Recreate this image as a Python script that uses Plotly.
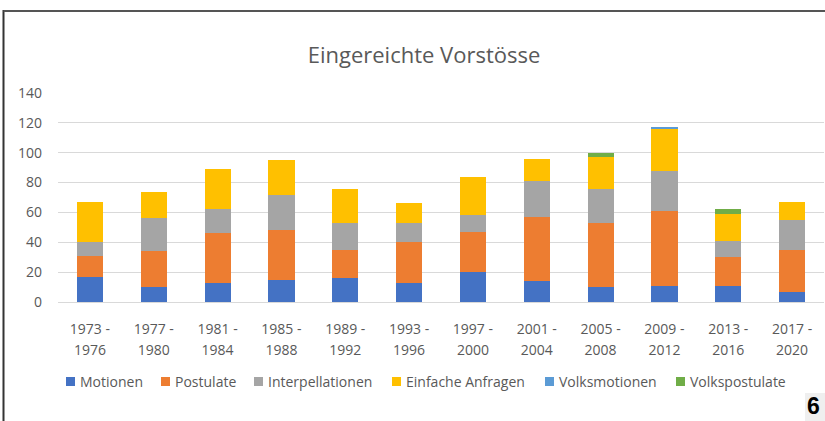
import plotly.graph_objects as go

categories = ["1973 - 1976", "1977 - 1980", "1981 - 1984", "1985 - 1988", "1989 - 1992",
              "1993 - 1996", "1997 - 2000", "2001 - 2004", "2005 - 2008", "2009 - 2012",
              "2013 - 2016", "2017 - 2020"]
motionen = [17, 10, 13, 15, 16, 13, 20, 14, 10, 11, 11, 7]
postulate = [14, 24, 33, 33, 19, 27, 27, 43, 43, 50, 19, 28]
interpellationen = [9, 22, 16, 24, 18, 13, 11, 24, 23, 27, 11, 20]
einfache_anfragen = [27, 18, 27, 23, 23, 13, 26, 15, 21, 28, 18, 12]
volksmotionen = [0, 0, 0, 0, 0, 0, 0, 0, 0, 1, 0, 0]
volkspostulate = [0, 0, 0, 0, 0, 0, 0, 0, 3, 0, 3, 0]

series = [
    ("Motionen", motionen, "#4472C4"),
    ("Postulate", postulate, "#ED7D31"),
    ("Interpellationen", interpellationen, "#A5A5A5"),
    ("Einfache Anfragen", einfache_anfragen, "#FFC000"),
    ("Volksmotionen", volksmotionen, "#5B9BD5"),
    ("Volkspostulate", volkspostulate, "#70AD47"),
]
y_ticks = [0, 20, 40, 60, 80, 100, 120, 140]
label_line1 = [c.split(" - ")[0] + " -" for c in categories]
label_line2 = [c.split(" - ")[1] for c in categories]

FONT = "Open Sans, sans-serif"
GRAY = "#595959"

W, H = 825, 421
ml, mr, mt, mb = 58, 1, 93, 119
pw, ph = W - ml - mr, H - mt - mb

def px(x):
    return (x - ml) / pw

def py(y):
    return (H - mb - y) / ph

fig = go.Figure()
for name, vals, color in series:
    fig.add_trace(go.Bar(x=categories, y=vals, name=name, showlegend=False,
                         marker=dict(color=color, line=dict(width=0))))

# legend drawn as coloured squares + labels (left edge of each square, in pixels)
legend_left = [66, 161, 254, 392, 545, 676]
shapes = []
annotations = []
for (name, _, color), lx in zip(series, legend_left):
    shapes.append(dict(type="rect", xref="paper", yref="paper",
                       x0=px(lx), x1=px(lx + 9), y0=py(386), y1=py(377),
                       fillcolor=color, line=dict(width=0)))
    annotations.append(dict(text=name, xref="paper", yref="paper", x=px(lx + 12), y=py(381.5),
                            xanchor="left", yanchor="middle", showarrow=False,
                            font=dict(family=FONT, size=14, color=GRAY)))

shapes += [
    dict(type="line", xref="paper", yref="paper", x0=px(3.5), x1=px(3.5), y0=py(10), y1=py(421),
         line=dict(color="#333333", width=2)),
    dict(type="line", xref="paper", yref="paper", x0=px(3.5), x1=px(825), y0=py(11), y1=py(11),
         line=dict(color="#555555", width=2)),
    dict(type="rect", xref="paper", yref="paper", x0=px(805), x1=px(825), y0=py(393), y1=py(421),
         fillcolor="#EFEFEF", line=dict(width=0)),
]
annotations.append(dict(text="<b>6</b>", xref="paper", yref="paper", x=px(813), y=py(406),
                        xanchor="center", yanchor="middle", showarrow=False, borderpad=0,
                        font=dict(family="Liberation Sans, Arial", size=23, color="#000000")))

fig.update_layout(
    width=W, height=H,
    barmode="stack", bargap=0.59,
    plot_bgcolor="white", paper_bgcolor="white",
    margin=dict(l=ml, r=mr, t=mt, b=mb, autoexpand=False),
    font=dict(family=FONT, color=GRAY, size=14),
    title=dict(text="Eingereichte Vorstösse", xref="container", x=424 / W, xanchor="center",
               y=1 - 55 / H, yanchor="middle",
               font=dict(family=FONT, size=22, color=GRAY)),
    showlegend=False,
    xaxis=dict(tickmode="array", tickvals=categories, ticktext=label_line1,
               showgrid=False, showline=True, linecolor="#D9D9D9", linewidth=1,
               ticks="", ticklabelstandoff=14, tickfont=dict(size=14, color=GRAY),
               fixedrange=True),
    xaxis2=dict(overlaying="x", side="bottom", type="linear", range=[-0.5, len(categories) - 0.5],
                tickmode="array", tickvals=list(range(len(categories))), ticktext=label_line2,
                showgrid=False, showline=False, zeroline=False, ticks="",
                ticklabelstandoff=38, tickfont=dict(size=14, color=GRAY), fixedrange=True),
    yaxis=dict(range=[0, 140], tickvals=y_ticks, showgrid=True, gridcolor="#D9D9D9",
               gridwidth=1, zeroline=False, showline=False, ticks="",
               ticklabelstandoff=15, tickfont=dict(size=14, color=GRAY), fixedrange=True),
    shapes=shapes,
    annotations=annotations,
)
# invisible helper trace so the second x axis (second line of the tick labels) is drawn
fig.add_trace(go.Scatter(x=[0], y=[0], xaxis="x2", mode="markers",
                         marker=dict(opacity=0), showlegend=False, hoverinfo="skip"))

fig.write_html("out.html", config={"displayModeBar": False},
               post_script="document.body.style.margin='0';")
